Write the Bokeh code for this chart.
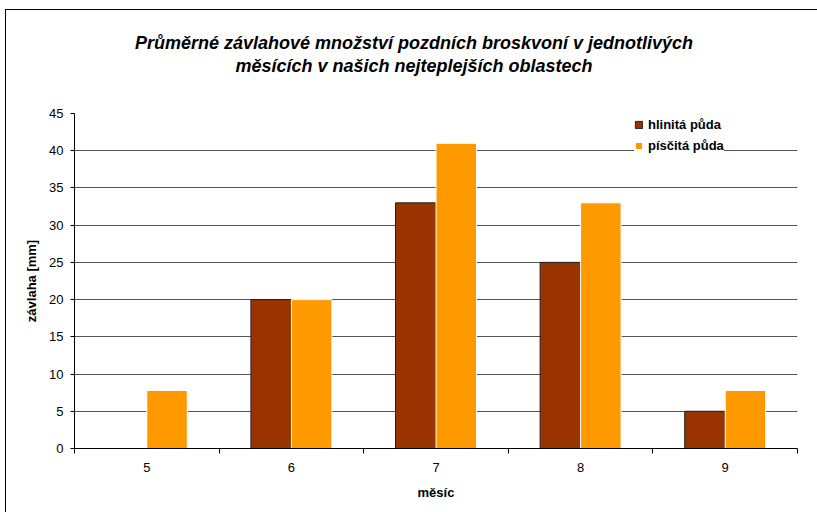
import numpy as np
from bokeh.plotting import figure
from bokeh.layouts import column
from bokeh.models import ColumnDataSource, FixedTicker, Legend, LegendItem, Range1d, Div
from bokeh.transform import dodge
from bokeh.embed import file_html
from bokeh.resources import INLINE

# ---- data ----
months = ["5", "6", "7", "8", "9"]
hlinita = [0, 20, 33, 25, 5]
piscita = [7.8, 20, 41, 33, 7.8]
y_ticks = [0, 5, 10, 15, 20, 25, 30, 35, 40, 45]
series_names = ["hlinitá půda", "písčitá půda"]
title_lines = ["Průměrné závlahové množství pozdních broskvoní v jednotlivých",
               "měsících v našich nejteplejších oblastech"]
x_title = "měsíc"
y_title = "závlaha [mm]"

FONT = "Liberation Sans"
BROWN = "#993300"
ORANGE = "#FF9900"

W = 811
TITLE_H = 80

pos = np.arange(len(months)) + 0.5
src = ColumnDataSource(dict(x=pos, hl=hlinita, ps=piscita, m=months))

p = figure(width=W, height=502 - TITLE_H, output_backend="svg", toolbar_location=None,
           x_range=Range1d(0, len(months)), y_range=Range1d(0, 45),
           min_border_left=68, min_border_right=20, min_border_top=103 - TITLE_H,
           min_border_bottom=64)
p.outline_line_color = None
p.background_fill_color = "white"
p.border_fill_color = "white"

r1 = p.vbar(x=dodge("x", -0.14, range=p.x_range), top="hl", width=0.28, source=src,
            fill_color=BROWN, line_color="#222222", line_width=1)
r2 = p.vbar(x=dodge("x", 0.14, range=p.x_range), top="ps", width=0.28, source=src,
            fill_color=ORANGE, line_color="white", line_width=1)

# grid
p.xgrid.grid_line_color = None
p.ygrid.ticker = FixedTicker(ticks=y_ticks)
p.ygrid.grid_line_color = "#555555"
p.ygrid.grid_line_width = 1

# x axis
xa = p.xaxis[0]
xa.ticker = FixedTicker(ticks=list(pos), minor_ticks=list(range(len(months) + 1)))
xa.major_label_overrides = {float(v): m for v, m in zip(pos, months)}
xa.major_tick_line_color = None
xa.major_tick_out = 0
xa.major_tick_in = 0
xa.minor_tick_out = 5
xa.minor_tick_in = 0
xa.minor_tick_line_color = "black"
xa.axis_line_color = "black"
xa.major_label_standoff = 9
xa.major_label_text_font = FONT
xa.major_label_text_font_size = "13px"
xa.major_label_text_color = "black"
xa.axis_label = x_title
xa.axis_label_text_font = FONT
xa.axis_label_text_font_size = "13px"
xa.axis_label_text_font_style = "bold"
xa.axis_label_text_color = "black"
xa.axis_label_standoff = 10

# y axis
ya = p.yaxis[0]
ya.ticker = FixedTicker(ticks=y_ticks)
ya.major_tick_out = 4
ya.major_tick_in = 0
ya.minor_tick_line_color = None
ya.axis_line_color = "black"
ya.major_tick_line_color = "black"
ya.major_label_standoff = 7
ya.major_label_text_font = FONT
ya.major_label_text_font_size = "13px"
ya.major_label_text_color = "black"
ya.axis_label = y_title
ya.axis_label_text_font = FONT
ya.axis_label_text_font_size = "13px"
ya.axis_label_text_font_style = "bold"
ya.axis_label_text_color = "black"
ya.axis_label_standoff = 7

# legend
legend = Legend(items=[LegendItem(label=series_names[0], renderers=[r1]),
                       LegendItem(label=series_names[1], renderers=[r2])],
                location=(560, 295), orientation="vertical")
legend.label_text_font = FONT
legend.label_text_font_size = "13px"
legend.label_text_font_style = "bold"
legend.label_text_color = "black"
legend.glyph_width = 9
legend.glyph_height = 9
legend.label_height = 14
legend.label_standoff = 5
legend.spacing = 6
legend.padding = 4
legend.margin = 0
legend.border_line_color = None
legend.background_fill_color = "white"
legend.background_fill_alpha = 1
p.add_layout(legend)

# title block
title_html = (
    f'<div style="margin:0; box-sizing:border-box; width:{W}px; padding:22px 0 0 5px; '
    f'text-align:center; font-family:\'{FONT}\'; font-size:18px; font-weight:bold; '
    f'font-style:italic; line-height:23px; color:#000;">'
    + "<br>".join(title_lines) + "</div>"
)
title_div = Div(text=title_html, width=W, height=TITLE_H, margin=0)

layout = column(title_div, p, spacing=0)
layout.styles = {"border-left": "1px solid #000", "border-top": "1px solid #000",
                 "margin-left": "5px", "margin-top": "9px", "background-color": "white"}

open("out.html", "w").write(file_html(layout, INLINE))
